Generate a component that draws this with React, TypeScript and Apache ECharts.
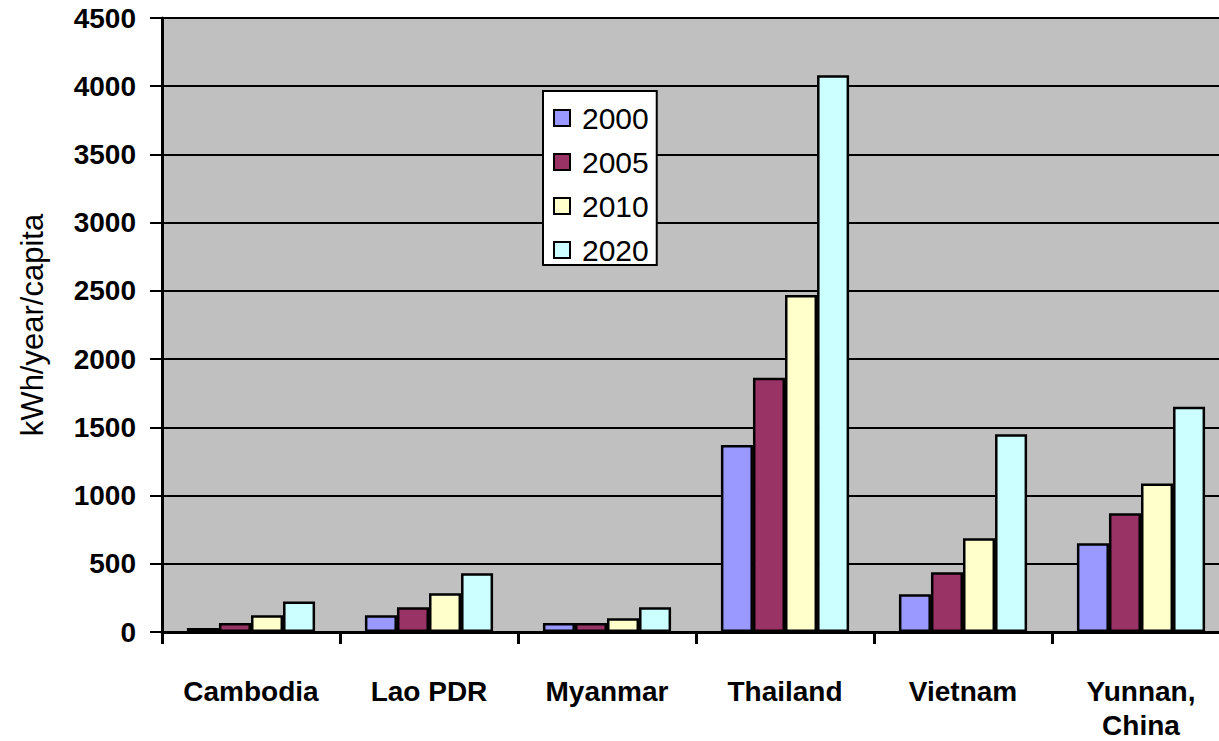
import React, { useEffect, useRef } from "react";
import * as echarts from "echarts";

const categories = ["Cambodia", "Lao PDR", "Myanmar", "Thailand", "Vietnam", "Yunnan,\nChina"];
const seriesNames = ["2000", "2005", "2010", "2020"];
const values2000 = [30, 122, 66, 1370, 277, 650];
const values2005 = [66, 182, 66, 1864, 437, 871];
const values2010 = [122, 284, 100, 2469, 687, 1088];
const values2020 = [224, 431, 182, 4081, 1449, 1650];
const colors = ["#9999ff", "#993366", "#ffffcc", "#ccffff"];
const yAxisName = "kWh/year/capita";

export default function App() {
  const ref = useRef<HTMLDivElement>(null);
  useEffect(() => {
    if (!ref.current) return;
    const chart = echarts.init(ref.current, undefined, { renderer: "svg" });
    const all = [values2000, values2005, values2010, values2020];
    chart.setOption({
      animation: false,
      backgroundColor: "#ffffff",
      textStyle: { fontFamily: "Liberation Sans, Arial, sans-serif" },
      grid: {
        left: 162,
        top: 18,
        width: 1068,
        height: 614,
        outerBoundsMode: "none",
        containLabel: false,
        show: true,
        backgroundColor: "#c0c0c0",
        borderWidth: 0,
      },
      legend: {
        orient: "vertical",
        left: 543,
        top: 91,
        width: 115,
        padding: [12, 8, 0, 10],
        itemGap: 14,
        itemWidth: 16,
        itemHeight: 16,
        icon: "rect",
        backgroundColor: "#ffffff",
        borderColor: "#000000",
        borderWidth: 2,
        textStyle: { fontSize: 30, color: "#000", padding: [0, 0, 0, 7], fontFamily: "Liberation Sans, Arial, sans-serif" },
        data: seriesNames,
      },
      xAxis: {
        type: "category",
        data: categories,
        axisLine: { lineStyle: { color: "#000", width: 3 } },
        axisTick: { show: true, interval: 0, length: 12, lineStyle: { color: "#000", width: 3 } },
        axisLabel: { interval: 0, margin: 42, fontSize: 28, fontWeight: "bold", color: "#000", lineHeight: 34 },
        splitLine: { show: false },
      },
      yAxis: {
        type: "value",
        min: 0,
        max: 4500,
        interval: 500,
        name: yAxisName,
        nameLocation: "middle",
        nameRotate: 90,
        nameGap: 114,
        nameTextStyle: { fontSize: 31, color: "#000" },
        axisLine: { show: true, lineStyle: { color: "#000", width: 3 } },
        axisTick: { show: true, length: 12, lineStyle: { color: "#000", width: 2 } },
        axisLabel: { margin: 26, fontSize: 28, color: "#000", fontWeight: "bold", formatter: (v: number) => String(v) },
        splitLine: { show: true, lineStyle: { color: "#000", width: 2 } },
      },
      series: seriesNames.map((name, i) => ({
        name,
        type: "bar",
        data: all[i],
        barGap: "0%",
        barCategoryGap: "28%",
        itemStyle: { color: colors[i], borderColor: "#000", borderWidth: 2.5 },
      })),
    });
    return () => chart.dispose();
  }, []);
  return <div ref={ref} style={{ position: "absolute", left: 0, top: 0, width: 1219, height: 741, overflow: "hidden" }} />;
}
